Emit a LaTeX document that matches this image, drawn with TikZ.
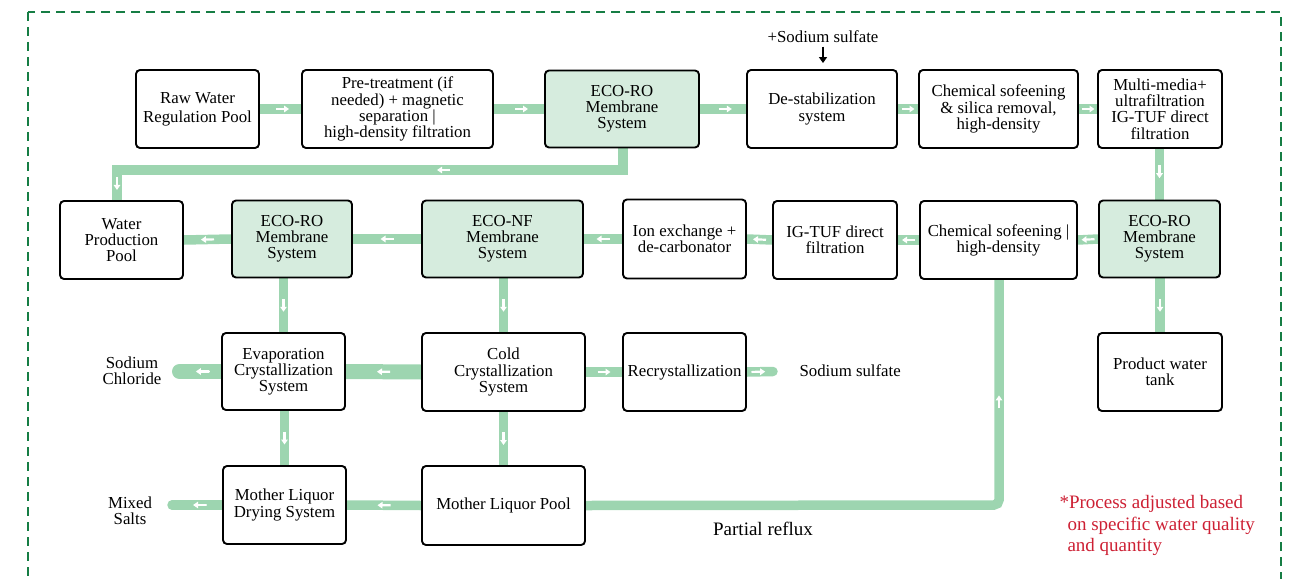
\documentclass[tikz,border=0pt]{standalone}
\usepackage{fontspec}
\setmainfont{Liberation Serif}
\usetikzlibrary{arrows.meta,decorations.markings}
\definecolor{bandgreen}{RGB}{157,213,176}
\definecolor{boxgreen}{RGB}{214,236,222}
\definecolor{dashgreen}{RGB}{22,125,68}
\definecolor{notered}{RGB}{205,32,52}
\pgfdeclarelayer{bg}
\pgfsetlayers{bg,main}
\tikzset{
  proc/.style={draw=black, line width=1.9pt, rounded corners=4pt, fill=white, align=center,
    inner sep=2pt, font=\fontsize{16.8}{16.2}\selectfont},
  hl/.style={proc, fill=boxgreen},
  sz/.style 2 args={minimum width=#1, minimum height=#2},
  flow/.style={draw=bandgreen, line width=9.5pt},
  wa/.style={postaction={decorate, decoration={markings, mark=at position #1 with
    {\draw[white, line width=2.2pt, -{Triangle[length=5pt,width=6.5pt]}] (-6.5pt,0) -- (6.5pt,0);}}}},
  wa/.default=0.5,
  lbl/.style={align=center, font=\fontsize{16.8}{16.2}\selectfont},
}
\begin{document}
\begin{tikzpicture}[x=1pt,y=-1pt]
\useasboundingbox (0,0) rectangle (1297,578);
\draw[dashgreen, line width=2pt, dash pattern=on 9pt off 6pt] (28,12) rectangle (1281,600);

% row 1
\node[proc, sz={123pt}{78pt}, font=\fontsize{16.8}{19}\selectfont] (raw) at (197.5,109) {Raw Water\\Regulation Pool};
\node[proc, sz={191pt}{78pt}] (pre) at (397.5,109) {Pre-treatment (if\\needed) + magnetic\\separation |\\high-density filtration};
\node[hl, sz={154pt}{77pt}] (ro1) at (622,109) {ECO-RO\\Membrane\\System};
\node[proc, sz={150pt}{78pt}] (destab) at (822,109) {De-stabilization\\system};
\node[proc, sz={159pt}{78pt}] (chem1) at (998.5,109) {Chemical sofeening\\\& silica removal,\\high-density};
\node[proc, sz={124pt}{78pt}] (multi) at (1160,109) {Multi-media+\\ultrafiltration\\IG-TUF direct\\filtration};

% row 2
\node[proc, sz={123pt}{78pt}] (wpp) at (121.5,240) {Water\\Production\\Pool};
\node[hl, sz={120pt}{77pt}] (ro2) at (292,239) {ECO-RO\\Membrane\\System};
\node[hl, sz={161pt}{77pt}] (nf) at (502.5,239) {ECO-NF\\Membrane\\System};
\node[proc, sz={123pt}{79pt}] (ion) at (684.5,239) {Ion exchange +\\de-carbonator};
\node[proc, sz={124pt}{78pt}] (igtuf) at (835,240) {IG-TUF direct\\filtration};
\node[proc, sz={157pt}{78pt}] (chem2) at (998.5,240) {Chemical sofeening |\\high-density};
\node[hl, sz={121pt}{77pt}] (ro3) at (1159.5,239) {ECO-RO\\Membrane\\System};

% row 3
\node[proc, sz={123pt}{77pt}] (evap) at (283.5,371.5) {Evaporation\\Crystallization\\System};
\node[proc, sz={163pt}{78pt}] (cold) at (503.5,372) {Cold\\Crystallization\\System};
\node[proc, sz={123pt}{78pt}] (recry) at (684.5,372) {Recrystallization};
\node[proc, sz={124pt}{78pt}] (tank) at (1160,372) {Product water\\tank};

% row 4
\node[proc, sz={123pt}{78pt}] (dry) at (284.5,505) {Mother Liquor\\Drying System};
\node[proc, sz={163pt}{79pt}] (pool) at (503.5,505.5) {Mother Liquor Pool};

% labels
\node[lbl] (na) at (823,37) {+Sodium sulfate};
\node[lbl] (naclL) at (132,371) {Sodium\\Chloride};
\node[lbl, anchor=west] (na2L) at (796,371) {Sodium sulfate};
\node[lbl] (mixL) at (130,511) {Mixed\\Salts};
\node[font=\fontsize{19}{21.5}\selectfont] (prL) at (763,529) {Partial reflux};
\node[anchor=north west, align=left, text=notered, font=\fontsize{19}{21.5}\selectfont] (note) at (1056,492)
  {*Process adjusted based\\\hspace*{8pt}on specific water quality\\\hspace*{8pt}and quantity};

\coordinate (fb1) at (623,170);
\coordinate (fb2) at (117,170);
\coordinate (pr) at (999,505);
\coordinate (naclE) at (179.5,371.5);
\coordinate (na2E) at (773,371.5);
\coordinate (mixE) at (172,505);

\begin{pgfonlayer}{bg}
% row 1 flows
\draw[flow, wa=0.55] (raw.east) -- (pre.west);
\draw[flow, wa=0.55] (pre.east) -- (ro1.west);
\draw[flow, wa=0.55] (ro1.east) -- (destab.west);
\draw[flow, wa] (destab.east) -- (chem1.west);
\draw[flow, wa] (chem1.east) -- (multi.west);
% feedback
\draw[flow, wa=201pt, wa=541pt] (ro1.south -| fb1) -- (fb1) -- (fb2) -- (fb2 |- wpp.north);
% verticals right
\draw[flow, wa=0.45] (multi.south -| ro3.north) -- (ro3.north);
\draw[flow, wa] (ro3.south -| tank.north) -- (tank.north);
% row 2 flows
\draw[flow, wa] (ro3.west) -- (chem2.east);
\draw[flow, wa] (chem2.west |- igtuf.east) -- (igtuf.east);
\draw[flow, wa] (igtuf.west) -- (ion.east);
\draw[flow, wa] (ion.west) -- (nf.east);
\draw[flow, wa] (nf.west) -- (ro2.east);
\draw[flow, wa] (ro2.west) -- (wpp.east);
% row2 -> row3
\draw[flow, wa] (ro2.south -| evap.north) -- (evap.north);
\draw[flow, wa] (nf.south -| cold.north) -- (cold.north);
% row 3
\draw[flow, line width=15pt, wa] (cold.west) -- (evap.east);
\draw[flow, line width=15pt, line cap=round, wa=0.45] (evap.west) -- (naclE);
\draw[flow, wa] (cold.east) -- (recry.west);
\draw[flow, line cap=round, wa=0.45] (recry.east) -- (na2E);
% row3 -> row4
\draw[flow, wa] (evap.south -| dry.north) -- (dry.north);
\draw[flow, wa] (cold.south -| pool.north) -- (pool.north);
% row 4
\draw[flow, wa] (pool.west) -- (dry.east);
\draw[flow, line cap=round, wa=0.45] (dry.west) -- (mixE);
\draw[flow, rounded corners=5pt, wa=514pt] (pool.east) -- (pr) -- (pr |- chem2.south);
\end{pgfonlayer}

% sodium sulfate input
\draw[line width=2.4pt, -{Triangle[length=6pt,width=8pt]}, shorten >=6pt] (na.south) -- (na.south |- destab.north);
\end{tikzpicture}
\end{document}
